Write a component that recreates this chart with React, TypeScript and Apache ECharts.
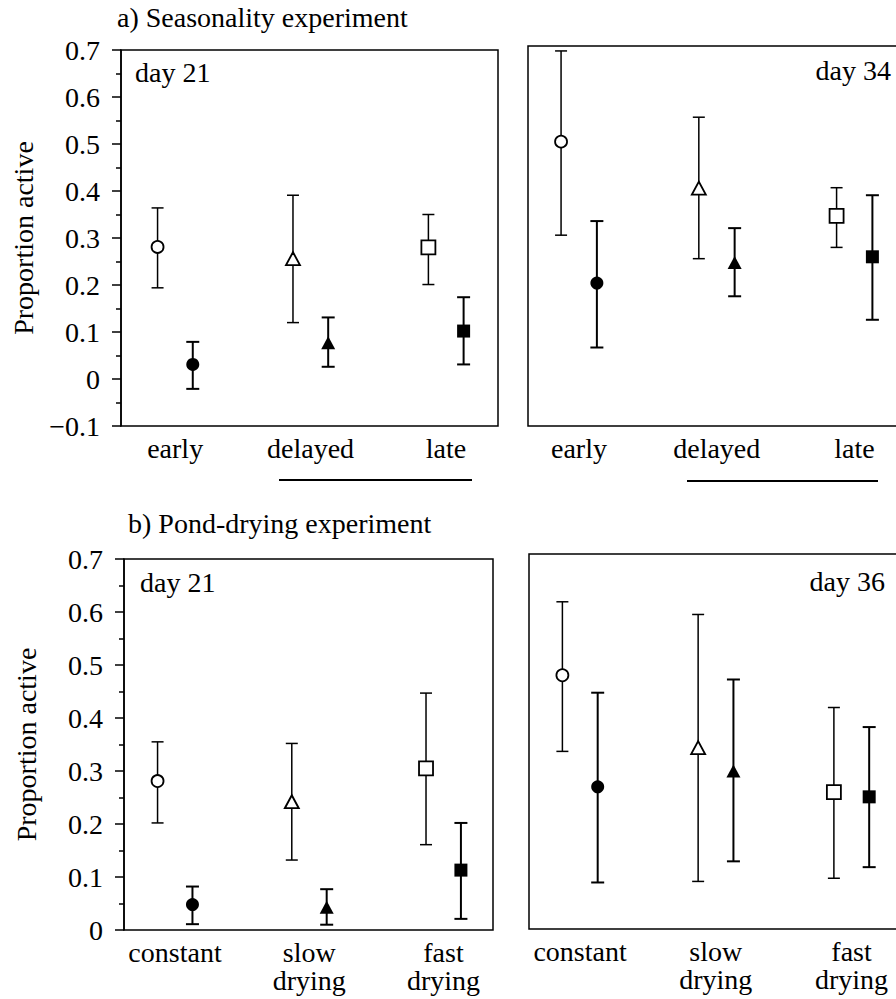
import React, { useEffect, useRef } from "react";
import * as echarts from "echarts";

const seasonCats = ["early", "delayed", "late"];
const dryingCats = ["constant", "slow\ndrying", "fast\ndrying"];
const symbols = ["circle", "triangle", "rect"];

// a) Seasonality experiment, day 21
const a21OpenMean = [0.281, 0.256, 0.28];
const a21OpenLow = [0.194, 0.12, 0.201];
const a21OpenHigh = [0.364, 0.391, 0.35];
const a21FilledMean = [0.031, 0.077, 0.102];
const a21FilledLow = [-0.021, 0.026, 0.031];
const a21FilledHigh = [0.079, 0.131, 0.174];
// a) Seasonality experiment, day 34
const a34OpenMean = [0.505, 0.406, 0.347];
const a34OpenLow = [0.306, 0.256, 0.28];
const a34OpenHigh = [0.698, 0.557, 0.407];
const a34FilledMean = [0.204, 0.248, 0.26];
const a34FilledLow = [0.067, 0.176, 0.126];
const a34FilledHigh = [0.336, 0.321, 0.391];
// b) Pond-drying experiment, day 21
const b21OpenMean = [0.281, 0.242, 0.305];
const b21OpenLow = [0.202, 0.132, 0.161];
const b21OpenHigh = [0.355, 0.352, 0.447];
const b21FilledMean = [0.048, 0.043, 0.113];
const b21FilledLow = [0.011, 0.01, 0.021];
const b21FilledHigh = [0.082, 0.077, 0.202];
// b) Pond-drying experiment, day 36
const b36OpenMean = [0.48, 0.343, 0.259];
const b36OpenLow = [0.336, 0.09, 0.096];
const b36OpenHigh = [0.619, 0.595, 0.419];
const b36FilledMean = [0.269, 0.299, 0.25];
const b36FilledLow = [0.088, 0.128, 0.117];
const b36FilledHigh = [0.447, 0.472, 0.382];

const FONT = "Liberation Serif";
const FS = 28;
const OFFSET = 0.13;

type Panel = {
  cats: string[];
  open: number[][];
  filled: number[][];
  grid: { left: number; top: number; width: number; height: number };
  xMin: number;
  xMax: number;
  yMin: number;
  yMax: number;
  showY: boolean;
};

const panels: Panel[] = [
  {
    cats: seasonCats,
    open: [a21OpenMean, a21OpenLow, a21OpenHigh],
    filled: [a21FilledMean, a21FilledLow, a21FilledHigh],
    grid: { left: 121, top: 50, width: 377, height: 376 },
    xMin: -0.4,
    xMax: 2.384,
    yMin: -0.1,
    yMax: 0.7,
    showY: true,
  },
  {
    cats: seasonCats,
    open: [a34OpenMean, a34OpenLow, a34OpenHigh],
    filled: [a34FilledMean, a34FilledLow, a34FilledHigh],
    grid: { left: 528, top: 46, width: 390, height: 380 },
    xMin: -0.37,
    xMax: 2.461,
    yMin: -0.1,
    yMax: 0.7085,
    showY: false,
  },
  {
    cats: dryingCats,
    open: [b21OpenMean, b21OpenLow, b21OpenHigh],
    filled: [b21FilledMean, b21FilledLow, b21FilledHigh],
    grid: { left: 124, top: 559, width: 369, height: 371 },
    xMin: -0.38,
    xMax: 2.369,
    yMin: 0,
    yMax: 0.7,
    showY: true,
  },
  {
    cats: dryingCats,
    open: [b36OpenMean, b36OpenLow, b36OpenHigh],
    filled: [b36FilledMean, b36FilledLow, b36FilledHigh],
    grid: { left: 529, top: 554, width: 390, height: 375 },
    xMin: -0.376,
    xMax: 2.497,
    yMin: 0,
    yMax: 0.7094,
    showY: false,
  },
];

function errorRender(halfCap: number, lw: number) {
  return (params: any, api: any) => {
    const x = api.value(0);
    const lo = api.coord([x, api.value(2)]);
    const hi = api.coord([x, api.value(3)]);
    const style = { stroke: "#000", lineWidth: lw };
    return {
      type: "group",
      children: [
        { type: "line", shape: { x1: lo[0], y1: lo[1], x2: hi[0], y2: hi[1] }, style },
        { type: "line", shape: { x1: lo[0] - halfCap, y1: lo[1], x2: lo[0] + halfCap, y2: lo[1] }, style },
        { type: "line", shape: { x1: hi[0] - halfCap, y1: hi[1], x2: hi[0] + halfCap, y2: hi[1] }, style },
      ],
    };
  };
}

function fmtY(v: number) {
  const r = Math.round(v * 10) / 10;
  if (r === 0) return "0";
  if (r < 0) return "\u2212" + Math.abs(r).toFixed(1);
  return r.toFixed(1);
}

export default function App() {
  const ref = useRef<HTMLDivElement>(null);
  useEffect(() => {
    if (!ref.current) return;
    const chart = echarts.init(ref.current, undefined, { renderer: "svg" });
    const grids: any[] = [];
    const xAxes: any[] = [];
    const yAxes: any[] = [];
    const series: any[] = [];
    panels.forEach((p, i) => {
      grids.push({ ...p.grid, show: true, borderColor: "#000", borderWidth: 1.5, backgroundColor: "transparent" });
      xAxes.push({
        type: "value",
        gridIndex: i,
        min: p.xMin,
        max: p.xMax,
        axisLine: { show: false, onZero: false },
        axisTick: { show: false },
        splitLine: { show: false },
        axisLabel: {
          customValues: [0, 1, 2],
          formatter: (v: number) => p.cats[Math.round(v)] ?? "",
          color: "#000",
          fontFamily: FONT,
          fontSize: FS,
          lineHeight: 28,
          margin: 8,
          verticalAlign: "top",
        },
      });
      yAxes.push({
        type: "value",
        gridIndex: i,
        min: p.yMin,
        max: p.yMax,
        interval: 0.1,
        show: true,
        splitLine: { show: false },
        axisLine: { show: p.showY, onZero: false, lineStyle: { color: "#000", width: 1.5 } },
        axisTick: { show: p.showY, length: 9, lineStyle: { color: "#000", width: 1.5 } },
        minorTick: { show: p.showY, splitNumber: 2, length: 5, lineStyle: { color: "#000", width: 1.5 } },
        axisLabel: {
          show: p.showY,
          formatter: fmtY,
          color: "#000",
          fontFamily: FONT,
          fontSize: FS,
          margin: 21,
          showMaxLabel: true,
        },
        name: p.showY ? "Proportion active" : "",
        nameLocation: "middle",
        nameGap: 84,
        nameTextStyle: { color: "#000", fontFamily: FONT, fontSize: FS },
      });
      const openPts = p.cats.map((_, k) => [k - OFFSET, p.open[0][k], p.open[1][k], p.open[2][k]]);
      const filledPts = p.cats.map((_, k) => [k + OFFSET, p.filled[0][k], p.filled[1][k], p.filled[2][k]]);
      series.push({
        type: "custom",
        xAxisIndex: i,
        yAxisIndex: i,
        renderItem: errorRender(6, 1.5),
        encode: { x: 0, y: [1, 2, 3] },
        data: openPts,
        z: 2,
      });
      series.push({
        type: "custom",
        xAxisIndex: i,
        yAxisIndex: i,
        renderItem: errorRender(6.5, 2),
        encode: { x: 0, y: [1, 2, 3] },
        data: filledPts,
        z: 2,
      });
      series.push({
        type: "scatter",
        xAxisIndex: i,
        yAxisIndex: i,
        z: 5,
        data: openPts.map((d, k) => ({
          value: [d[0], d[1]],
          symbol: symbols[k],
          symbolSize: k === 0 ? 12 : k === 1 ? [14, 13] : 14,
        })),
        itemStyle: { color: "#fff", borderColor: "#000", borderWidth: 1.8, opacity: 1 },
      });
      series.push({
        type: "scatter",
        xAxisIndex: i,
        yAxisIndex: i,
        z: 5,
        data: filledPts.map((d, k) => ({
          value: [d[0], d[1]],
          symbol: symbols[k],
          symbolSize: k === 0 ? 13 : k === 1 ? [14, 13] : 13,
        })),
        itemStyle: { color: "#000", borderColor: "#000", borderWidth: 0, opacity: 1 },
      });
    });
    const txt = (text: string, x: number, y: number, align: string = "left") => ({
      type: "text",
      x,
      y,
      style: { text, fill: "#000", fontFamily: FONT, fontSize: FS, align, verticalAlign: "middle" },
    });
    chart.setOption({
      animation: false,
      backgroundColor: "#fff",
      textStyle: { fontFamily: FONT },
      grid: grids,
      xAxis: xAxes,
      yAxis: yAxes,
      series,
      graphic: [
        txt("a) Seasonality experiment", 117, 17),
        txt("day 21", 135, 72),
        txt("day 34", 891, 70, "right"),
        txt("b) Pond-drying experiment", 128, 523),
        txt("day 21", 140, 582),
        txt("day 36", 885, 581, "right"),
        { type: "line", shape: { x1: 279, y1: 480, x2: 472, y2: 480 }, style: { stroke: "#000", lineWidth: 2 } },
        { type: "line", shape: { x1: 687, y1: 481, x2: 878, y2: 481 }, style: { stroke: "#000", lineWidth: 2 } },
      ],
    });
    return () => chart.dispose();
  }, []);
  return (
    <div style={{ position: "absolute", left: 0, top: 0, width: 896, height: 999, overflow: "hidden" }}>
      <div ref={ref} style={{ width: 924, height: 999 }} />
    </div>
  );
}
